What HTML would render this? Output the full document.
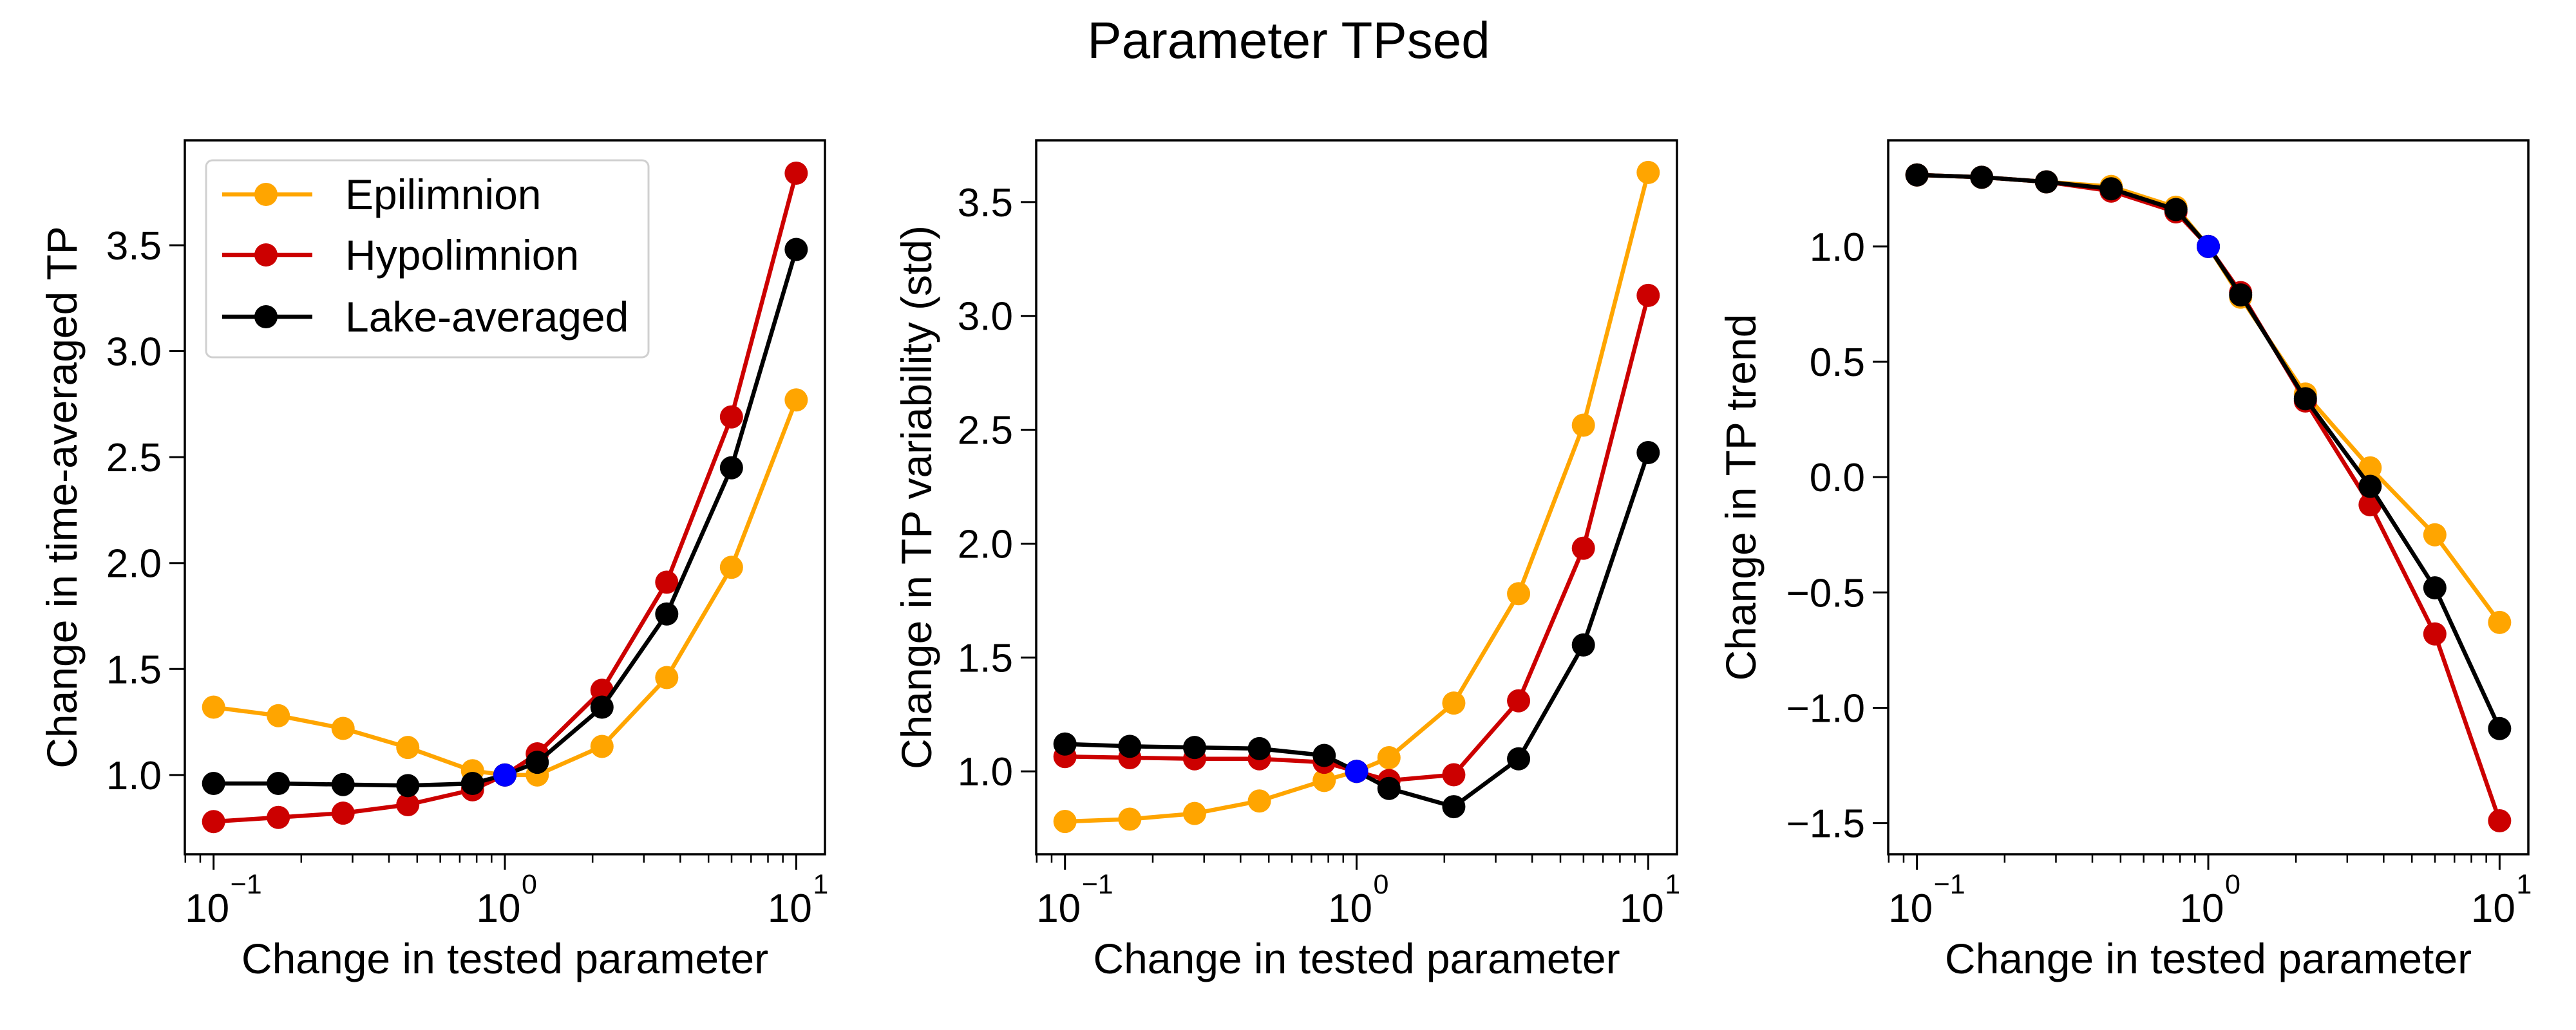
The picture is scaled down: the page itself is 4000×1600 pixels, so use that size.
<!DOCTYPE html>
<html><head><meta charset="utf-8"><style>
html,body{margin:0;padding:0;background:#fff;}
svg{display:block;font-family:"Liberation Sans",Arial,sans-serif;}
</style></head><body>
<svg id="fig" width="4000" height="1600" viewBox="0 0 4000 1600" xmlns="http://www.w3.org/2000/svg">
<rect width="4000" height="1600" fill="#fff"/>
<text x="2001" y="90" font-size="80" text-anchor="middle">Parameter TPsed</text>
</svg>
<script>
const xValues = [0.1, 0.1668, 0.2783, 0.4642, 0.7743, 1.0, 1.2915, 2.1544, 3.5938, 5.9948, 10];
const seriesNames = ["Epilimnion", "Hypolimnion", "Lake-averaged"];
const seriesColors = ["#FFA500", "#CC0000", "#000000"];
const meanEpi = [1.32,1.28,1.22,1.13,1.02,1.0,1.00,1.135,1.46,1.98,2.77];
const meanHypo = [0.78,0.80,0.82,0.86,0.93,1.0,1.10,1.40,1.91,2.69,3.84];
const meanLake = [0.96,0.96,0.955,0.95,0.96,1.0,1.06,1.32,1.76,2.45,3.48];
const stdEpi = [0.78,0.79,0.815,0.87,0.96,1.0,1.06,1.30,1.78,2.52,3.63];
const stdHypo = [1.065,1.06,1.055,1.055,1.04,1.0,0.96,0.985,1.31,1.98,3.09];
const stdLake = [1.12,1.11,1.105,1.10,1.07,1.0,0.925,0.845,1.055,1.555,2.40];
const trendEpi = [1.31,1.30,1.28,1.26,1.17,1.0,0.78,0.36,0.04,-0.25,-0.63];
const trendHypo = [1.31,1.30,1.28,1.24,1.15,1.0,0.80,0.33,-0.12,-0.68,-1.49];
const trendLake = [1.31,1.30,1.28,1.25,1.16,1.0,0.79,0.34,-0.04,-0.48,-1.09];
const refX = [1.0];
const refY = [1.0];
const yTicks1 = [1.0,1.5,2.0,2.5,3.0,3.5];
const yTicks2 = [1.0,1.5,2.0,2.5,3.0,3.5];
const yTicks3 = [-1.5,-1.0,-0.5,0.0,0.5,1.0];
const xTickExps = [-1,0,1];

const NS = "http://www.w3.org/2000/svg";
const svg = document.getElementById('fig');
function mk(tag, attrs, parent){const e=document.createElementNS(NS,tag);for(const k in attrs)e.setAttribute(k,attrs[k]);(parent||svg).appendChild(e);return e;}

const T0 = 218, B0 = 1327;
const panels = [
 {id:'mean', L:287, R:1281, T:T0, B:B0, ymin:0.626, ymax:3.995, ticks:yTicks1, series:[meanEpi,meanHypo,meanLake], ylabel:'Change in time-averaged TP', lx:96, legend:true},
 {id:'std', L:1609, R:2604, T:T0, B:B0, ymin:0.636, ymax:3.771, ticks:yTicks2, series:[stdEpi,stdHypo,stdLake], ylabel:'Change in TP variability (std)', lx:1423},
 {id:'trend', L:2932, R:3926, T:T0, B:B0, ymin:-1.635, ymax:1.46, ticks:yTicks3, series:[trendEpi,trendHypo,trendLake], ylabel:'Change in TP trend', lx:2703}
];
const lxmin = -1.0987, lxmax = 1.0987;
const MR = 18, LW = 6.5;

panels.forEach(p=>{
  const g = mk('g',{});
  
  
  const sx = v => p.L + (Math.log10(v)-lxmin)/(lxmax-lxmin)*(p.R-p.L);
  const sy = v => p.B - (v-p.ymin)/(p.ymax-p.ymin)*(p.B-p.T);
  p.series.forEach((vals,si)=>{
    const sg = mk('g',{},g);
    
    
    const pts = vals.map((v,i)=>sx(xValues[i]).toFixed(1)+','+sy(v).toFixed(1)).join(' ');
    const pl = mk('polyline',{points:pts,fill:'none',stroke:seriesColors[si],'stroke-width':LW,'stroke-linejoin':'round'},sg);
    
    
    vals.forEach((v,i)=>{
      const c = mk('circle',{cx:sx(xValues[i]),cy:sy(v),r:MR,fill:seriesColors[si]},sg);
      
      
    });
  });
  refX.forEach((xv,i)=>{
    const c = mk('circle',{cx:sx(xv),cy:sy(refY[i]),r:MR,fill:'#0000FF'},g);
    
    
  });
  const fr = mk('rect',{x:p.L,y:p.T,width:p.R-p.L,height:p.B-p.T,fill:'none',stroke:'#000','stroke-width':3.5},g);
  
  
  p.ticks.forEach(t=>{
    const y = sy(t);
    mk('line',{x1:p.L-24,x2:p.L,y1:y,y2:y,stroke:'#000','stroke-width':3},g);
    const tx = mk('text',{x:p.L-36,y:y+22,'font-size':62,'text-anchor':'end'},g);
    tx.textContent = (t<0?'\u2212':'')+Math.abs(t).toFixed(1);
    
    
  });
  xTickExps.forEach(e=>{
    const x = sx(Math.pow(10,e));
    mk('line',{x1:x,x2:x,y1:p.B,y2:p.B+24,stroke:'#000','stroke-width':3},g);
    const tx = mk('text',{x:x-10,y:1432,'font-size':62,'text-anchor':'middle'},g);
    tx.textContent = '10';
    
    
    const sp = mk('text',{x:x+26,y:1388,'font-size':43,'text-anchor':'start'},g);
    sp.textContent = e<0?'\u22121':String(e);
    
    
  });
  for(let e=-2;e<=1;e++){for(let m=2;m<=9;m++){const v=m*Math.pow(10,e);const lv=Math.log10(v);if(lv>lxmin&&lv<lxmax){const x=sx(v);mk('line',{x1:x,x2:x,y1:p.B,y2:p.B+13,stroke:'#000','stroke-width':2.5},g);}}}
  const xl = mk('text',{x:(p.L+p.R)/2,y:1512,'font-size':66,'text-anchor':'middle'},g);
  xl.textContent = 'Change in tested parameter';
  
  
  const cy = (p.T+p.B)/2;
  const yl = mk('text',{x:p.lx,y:cy,'font-size':66,'text-anchor':'middle',transform:'rotate(-90 '+(p.lx)+' '+cy+') translate(0 23)'},g);
  yl.textContent = p.ylabel;
  
  
  if(p.legend){
    const lg = mk('g',{},g);
    
    
    mk('rect',{x:320,y:249,width:687,height:306,rx:10,fill:'#fff','fill-opacity':0.85,stroke:'#d0d0d0','stroke-width':3},lg);
    const ys=[302,396,492];
    seriesNames.forEach((n,i)=>{
      const en = mk('g',{},lg);
      
      
      mk('line',{x1:345,x2:485,y1:ys[i],y2:ys[i],stroke:seriesColors[i],'stroke-width':LW},en);
      mk('circle',{cx:413,cy:ys[i],r:MR,fill:seriesColors[i]},en);
      const t = mk('text',{x:536,y:ys[i]+23,'font-size':66},en);
      t.textContent = n;
    });
  }
});
</script>
</body></html>
